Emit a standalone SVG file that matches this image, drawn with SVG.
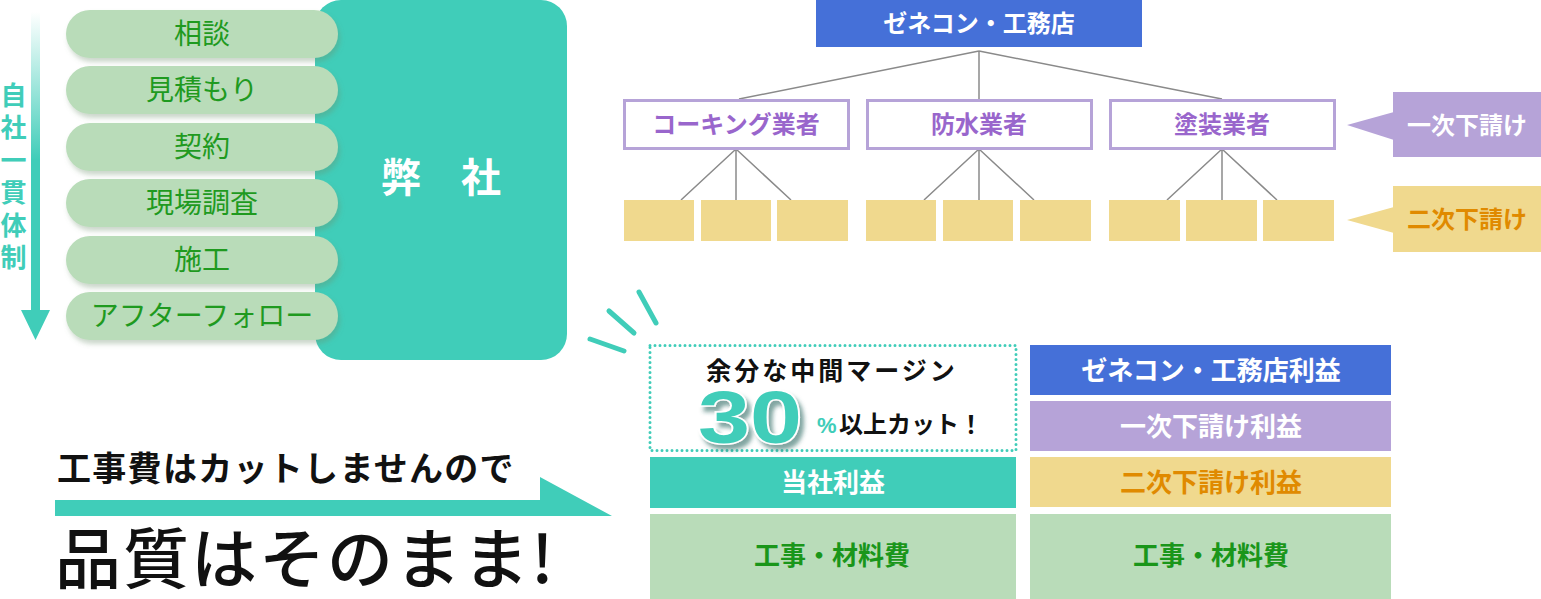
<svg xmlns="http://www.w3.org/2000/svg" width="1541" height="599" viewBox="0 0 1541 599">
<defs>
<style>
.jp{font-family:"Noto Sans CJK JP","Noto Sans",sans-serif}
.pill{fill:#b9dcb9;filter:url(#psh)}
.pilltxt{font-size:28px;fill:#1f9a1f;text-anchor:middle}
.lbl{font-size:24px;font-weight:bold;text-anchor:middle}
.big{font-size:26px}
.conn{stroke:#8a8a8a;stroke-width:1.5;fill:none}
.yel{fill:#f0d98e}
.pbox{fill:#fff;stroke:#b6a3d8;stroke-width:3}
.burst{stroke:#40cdb9;stroke-width:5;stroke-linecap:round}
</style>
<linearGradient id="ag" x1="0" y1="0" x2="0" y2="1">
<stop offset="0" stop-color="#40cdb9" stop-opacity="0"/>
<stop offset="0.45" stop-color="#40cdb9" stop-opacity="1"/>
</linearGradient>
<filter id="psh" x="-10%" y="-20%" width="120%" height="160%">
<feDropShadow dx="2" dy="4" stdDeviation="2.5" flood-color="#6b8f6b" flood-opacity="0.35"/>
</filter>
<filter id="nsh" x="-20%" y="-20%" width="150%" height="150%">
<feDropShadow dx="4" dy="5" stdDeviation="2" flood-color="#2a6a62" flood-opacity="0.6"/>
</filter>
</defs>
<rect width="1541" height="599" fill="#fff"/>

<g id="flow-arrow">
<path d="M31,12 H40 V310 H50 L35.5,340 L21,310 H31 Z" fill="url(#ag)"/>
<text class="jp" x="13.5" y="82" font-size="26" font-weight="bold" fill="#40cdb9" writing-mode="vertical-rl" letter-spacing="6.5">自社一貫体制</text>
</g>

<g id="company">
<rect x="315" y="0" width="252" height="360" rx="26" fill="#40cdb9"/>
<text class="jp" x="441" y="192" font-size="40" font-weight="bold" fill="#fff" text-anchor="middle">弊　社</text>
</g>

<g id="steps" class="jp">
<g id="step1"><rect class="pill" x="66" y="10" width="272" height="48" rx="24"/><text class="pilltxt" x="202" y="44">相談</text></g>
<g id="step2"><rect class="pill" x="66" y="66" width="272" height="48" rx="24"/><text class="pilltxt" x="202" y="100">見積もり</text></g>
<g id="step3"><rect class="pill" x="66" y="123" width="272" height="48" rx="24"/><text class="pilltxt" x="202" y="157">契約</text></g>
<g id="step4"><rect class="pill" x="66" y="179" width="272" height="48" rx="24"/><text class="pilltxt" x="202" y="213">現場調査</text></g>
<g id="step5"><rect class="pill" x="66" y="236" width="272" height="48" rx="24"/><text class="pilltxt" x="202" y="270">施工</text></g>
<g id="step6"><rect class="pill" x="66" y="292" width="272" height="48" rx="24"/><text class="pilltxt" x="202" y="326">アフターフォロー</text></g>
</g>

<g id="connectors">
<path class="conn" d="M979,51 L739,99 M979,51 V99 M979,51 L1222,99"/>
<path class="conn" d="M736,149 L681,200 M736,149 V200 M736,149 L791,200"/>
<path class="conn" d="M979,149 L924,200 M979,149 V200 M979,149 L1034,200"/>
<path class="conn" d="M1222,149 L1167,200 M1222,149 V200 M1222,149 L1277,200"/>
</g>

<g id="genecon">
<rect x="816" y="0" width="326" height="47" fill="#4570d8"/>
<text class="jp lbl" x="979" y="32" fill="#fff">ゼネコン・工務店</text>
</g>

<g id="sub1-caulking"><rect class="pbox" x="624.5" y="100.5" width="224" height="48"/><text class="jp lbl" x="736" y="133" fill="#9966cc">コーキング業者</text></g>
<g id="sub1-waterproof"><rect class="pbox" x="867.5" y="100.5" width="224" height="48"/><text class="jp lbl" x="979" y="133" fill="#9966cc">防水業者</text></g>
<g id="sub1-painting"><rect class="pbox" x="1110.5" y="100.5" width="224" height="48"/><text class="jp lbl" x="1222" y="133" fill="#9966cc">塗装業者</text></g>

<g id="sub2">
<rect class="yel" x="624" y="200" width="70" height="41"/>
<rect class="yel" x="701" y="200" width="70" height="41"/>
<rect class="yel" x="777" y="200" width="71" height="41"/>
<rect class="yel" x="866" y="200" width="70" height="41"/>
<rect class="yel" x="943" y="200" width="70" height="41"/>
<rect class="yel" x="1020" y="200" width="71" height="41"/>
<rect class="yel" x="1109" y="200" width="71" height="41"/>
<rect class="yel" x="1186" y="200" width="71" height="41"/>
<rect class="yel" x="1263" y="200" width="71" height="41"/>
</g>

<g id="label-first">
<polygon points="1347,125 1394,112 1394,140" fill="#b6a3d8"/>
<rect x="1393" y="92" width="148" height="65" fill="#b6a3d8"/>
<text class="jp lbl" x="1467" y="134" fill="#fff">一次下請け</text>
</g>
<g id="label-second">
<polygon points="1347,220 1394,207 1394,233" fill="#f0d98e"/>
<rect x="1393" y="186" width="148" height="66" fill="#f0d98e"/>
<text class="jp lbl" x="1467" y="228" fill="#e08a00">二次下請け</text>
</g>

<g id="burst">
<line class="burst" x1="639" y1="292" x2="656" y2="323"/>
<line class="burst" x1="609" y1="311" x2="634" y2="333"/>
<line class="burst" x1="590" y1="339" x2="624" y2="351"/>
</g>

<g id="margin-cut">
<rect x="650" y="345.5" width="366" height="105" fill="none" stroke="#40cdb9" stroke-width="3" stroke-dasharray="0 5" stroke-linecap="round"/>
<text class="jp" x="832" y="380" font-size="25" font-weight="bold" fill="#111" text-anchor="middle" letter-spacing="3">余分な中間マージン</text>
<text x="698" y="443" font-family="Liberation Sans, Arial, sans-serif" font-size="74" font-weight="bold" fill="#40cdb9" stroke="#fff" stroke-width="3" paint-order="stroke" textLength="104" lengthAdjust="spacingAndGlyphs" filter="url(#nsh)">30</text>
<text x="817" y="433" font-family="Liberation Sans, Arial, sans-serif" font-size="22" font-weight="bold" fill="#40cdb9">%</text>
<text class="jp" x="839" y="433" font-size="24" font-weight="bold" fill="#111">以上カット！</text>
</g>

<g id="our-profit"><rect x="650" y="457" width="366" height="51" fill="#40cdb9"/><text class="jp lbl big" x="833" y="492" fill="#fff">当社利益</text></g>
<g id="our-cost"><rect x="650" y="514" width="366" height="85" fill="#b9dcb9"/><text class="jp lbl big" x="832" y="565" fill="#1a961a">工事・材料費</text></g>

<g id="gc-profit"><rect x="1030" y="345" width="361" height="50" fill="#4570d8"/><text class="jp lbl big" x="1211" y="380" fill="#fff">ゼネコン・工務店利益</text></g>
<g id="first-profit"><rect x="1030" y="401" width="361" height="50" fill="#b6a3d8"/><text class="jp lbl big" x="1211" y="436" fill="#fff">一次下請け利益</text></g>
<g id="second-profit"><rect x="1030" y="457" width="361" height="50" fill="#f0d98e"/><text class="jp lbl big" x="1211" y="492" fill="#e08a00">二次下請け利益</text></g>
<g id="other-cost"><rect x="1030" y="514" width="361" height="85" fill="#b9dcb9"/><text class="jp lbl big" x="1211" y="565" fill="#1a961a">工事・材料費</text></g>

<g id="slogan">
<text class="jp" x="57" y="481" font-size="34" font-weight="bold" fill="#111" letter-spacing="1.3">工事費はカットしませんので</text>
<polygon points="55,500 540,500 540,477 612,516 55,516" fill="#40cdb9"/>
<text class="jp" x="55" y="583" font-size="66" font-weight="500" fill="#111" letter-spacing="2">品質はそのまま!</text>
</g>
</svg>
